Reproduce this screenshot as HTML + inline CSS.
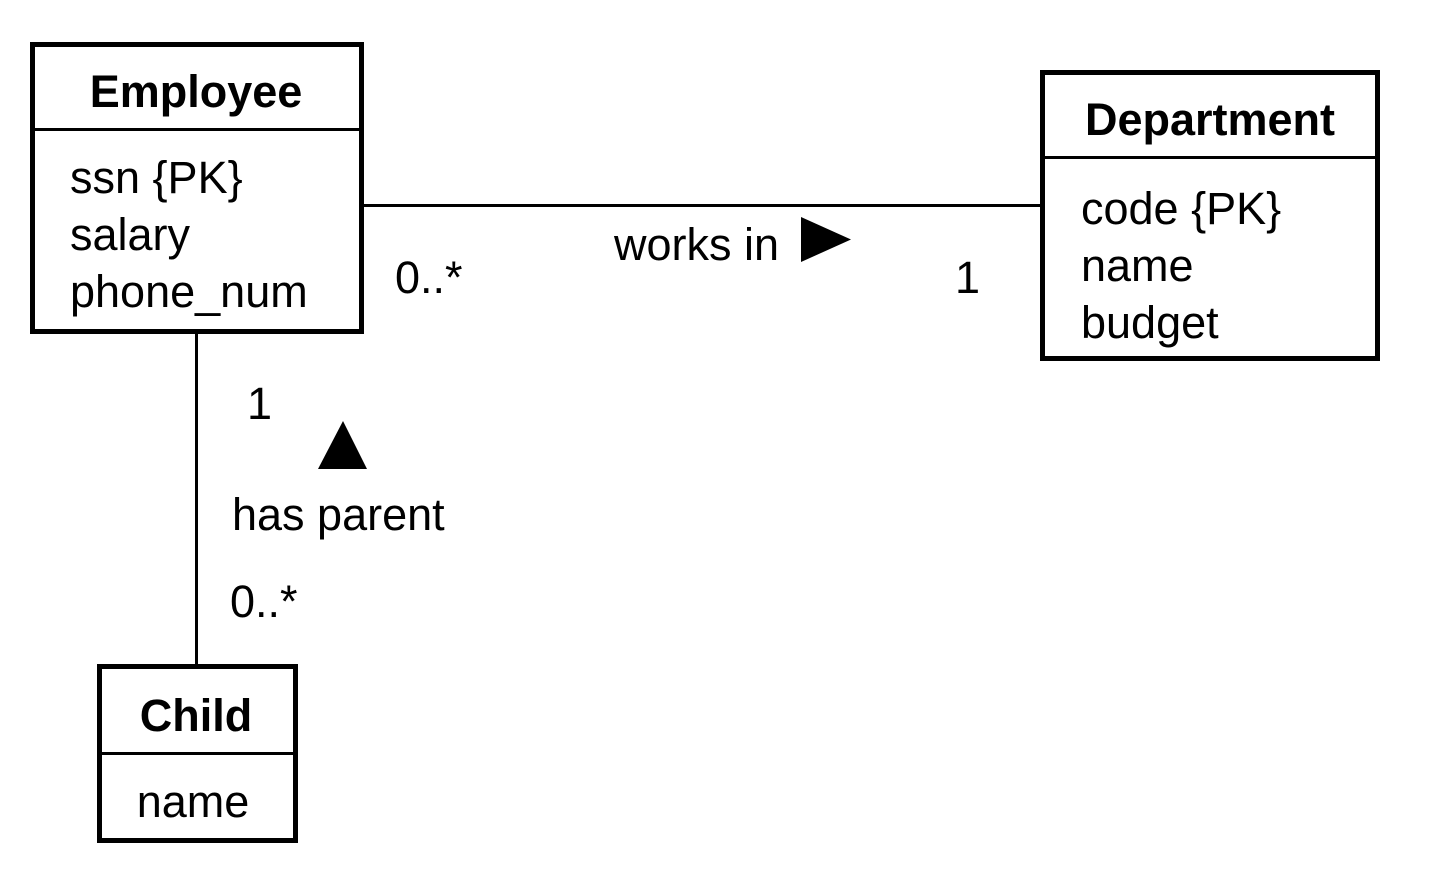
<!DOCTYPE html>
<html><head><meta charset="utf-8"><style>
html,body{margin:0;padding:0;background:#fff;}
svg{display:block;}
text{font-family:"Liberation Sans",sans-serif;font-size:45px;fill:#000;}
.b{font-weight:bold;}
</style></head><body>
<svg width="1434" height="890" viewBox="0 0 1434 890" xmlns="http://www.w3.org/2000/svg">
<g stroke="#000" fill="none">
<line x1="363" y1="205.5" x2="1040" y2="205.5" stroke-width="3"/>
<line x1="196.5" y1="333" x2="196.5" y2="664" stroke-width="3"/>
<rect x="32.5" y="44.5" width="329" height="287" stroke-width="5"/>
<line x1="32" y1="129.5" x2="362" y2="129.5" stroke-width="3"/>
<rect x="1042.5" y="72.5" width="335" height="286" stroke-width="5"/>
<line x1="1042" y1="157.5" x2="1378" y2="157.5" stroke-width="3"/>
<rect x="99.5" y="666.5" width="196" height="174" stroke-width="5"/>
<line x1="99" y1="753.5" x2="296" y2="753.5" stroke-width="3"/>
</g>
<polygon points="801,217 851,239.5 801,262" fill="#000"/>
<polygon points="318,469 343,421 367,469" fill="#000"/>
<text class="b" x="196" y="107" text-anchor="middle">Employee</text>
<text x="70" y="193">ssn {PK}</text>
<text x="70" y="250">salary</text>
<text x="70" y="307">phone_num</text>
<text class="b" x="1210" y="135" text-anchor="middle">Department</text>
<text x="1081" y="224">code {PK}</text>
<text x="1081" y="281">name</text>
<text x="1081" y="338">budget</text>
<text class="b" x="196" y="731" text-anchor="middle">Child</text>
<text x="193" y="817" text-anchor="middle">name</text>
<text x="614" y="260">works in</text>
<text x="395" y="293">0..*</text>
<text x="955" y="293">1</text>
<text x="247" y="419">1</text>
<text x="232" y="530">has parent</text>
<text x="230" y="617">0..*</text>
</svg>
</body></html>
